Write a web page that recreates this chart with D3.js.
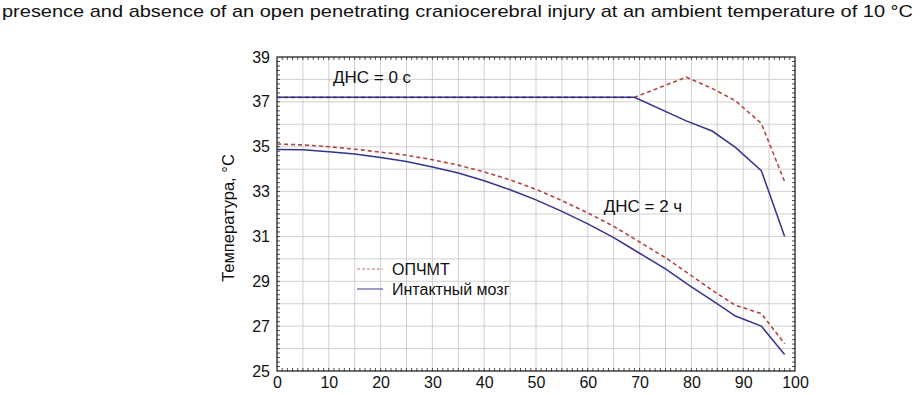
<!DOCTYPE html>
<html>
<head>
<meta charset="utf-8">
<script src="https://cdn.jsdelivr.net/npm/d3@7"></script>
<style>
  body { margin: 0; background: white; }
  text { font-family: Arial, "Liberation Sans", sans-serif; }
</style>
</head>
<body>
<div id="chart-area"></div>
<script>
// data
const xTop = [0, 69, 79, 84, 88.5, 93.5, 98];
const intactTop = [37.2, 37.2, 36.15, 35.7, 34.97, 33.93, 31.0];
const injuryTop = [37.2, 37.2, 38.1, 37.6, 37.05, 36.04, 33.44];

const xLow = [0, 5, 10, 15, 20, 25, 30, 35, 40, 45, 50, 55, 60, 65, 70, 75, 80, 84, 88.5, 93.5, 98];
const intactLow = [34.88, 34.86, 34.78, 34.67, 34.52, 34.34, 34.10, 33.83, 33.48, 33.08, 32.63, 32.12,
                   31.56, 30.95, 30.25, 29.55, 28.75, 28.15, 27.45, 27.0, 25.74];
const injuryLow = [35.12, 35.08, 35.0, 34.89, 34.76, 34.62, 34.42, 34.18, 33.88, 33.52, 33.1, 32.6,
                   32.05, 31.45, 30.75, 30.05, 29.25, 28.6, 27.93, 27.56, 26.22];

const xTicks = [0, 10, 20, 30, 40, 50, 60, 70, 80, 90, 100];
const yTicks = [25, 27, 29, 31, 33, 35, 37, 39];
const legendLabels = ["ОПЧМТ", "Интактный мозг"];

const width = 921;
const height = 395;
const margin = {left: 277, right: 126, top: 57, bottom: 24};
const w = width - margin.left - margin.right;
const h = height - margin.top - margin.bottom;

const blue = "#34348f";
const red = "#b0463f";

const svg = d3.select("#chart-area")
    .append("svg")
    .attr("width", width)
    .attr("height", height);

// caption line (cut from the page above)
svg.append("text")
    .attr("x", 2)
    .attr("y", 17)
    .attr("font-size", "17px")
    .attr("textLength", 911)
    .attr("lengthAdjust", "spacingAndGlyphs")
    .attr("fill", "#111")
    .text("presence and absence of an open penetrating craniocerebral injury at an ambient temperature of 10 °C");

const g = svg.append("g")
    .attr("transform", "translate(" + margin.left + "," + margin.top + ")");

const x = d3.scaleLinear().domain([0, 100]).range([0, w]);
const y = d3.scaleLinear().domain([25, 39]).range([h, 0]);

// grid
g.append("g").selectAll("line")
    .data(d3.range(5, 100, 5))
    .enter().append("line")
    .attr("x1", d => x(d)).attr("x2", d => x(d))
    .attr("y1", 0).attr("y2", h)
    .attr("stroke", "#c4c4c4")
    .attr("stroke-width", 0.8);

g.append("g").selectAll("line")
    .data(d3.range(26, 39, 1))
    .enter().append("line")
    .attr("x1", 0).attr("x2", w)
    .attr("y1", d => y(d)).attr("y2", d => y(d))
    .attr("stroke", "#c4c4c4")
    .attr("stroke-width", 0.8);

// minor ticks inside the frame
const minorX = d3.range(1, 100, 1);
const minorY = d3.range(25.2, 39, 0.2);
g.append("g").selectAll("line")
    .data(minorX)
    .enter().append("line")
    .attr("x1", d => x(d)).attr("x2", d => x(d))
    .attr("y1", h).attr("y2", h - 3)
    .attr("stroke", "#222").attr("stroke-width", 0.8);
g.append("g").selectAll("line")
    .data(minorX)
    .enter().append("line")
    .attr("x1", d => x(d)).attr("x2", d => x(d))
    .attr("y1", 0).attr("y2", 3)
    .attr("stroke", "#222").attr("stroke-width", 0.8);
g.append("g").selectAll("line")
    .data(minorY)
    .enter().append("line")
    .attr("x1", 0).attr("x2", 3)
    .attr("y1", d => y(d)).attr("y2", d => y(d))
    .attr("stroke", "#222").attr("stroke-width", 0.8);
g.append("g").selectAll("line")
    .data(minorY)
    .enter().append("line")
    .attr("x1", w).attr("x2", w - 3)
    .attr("y1", d => y(d)).attr("y2", d => y(d))
    .attr("stroke", "#222").attr("stroke-width", 0.8);

// frame
g.append("rect")
    .attr("width", w).attr("height", h)
    .attr("fill", "none")
    .attr("stroke", "#111")
    .attr("stroke-width", 1.2);

// axes
const bottomAxis = d3.axisBottom(x).tickValues(xTicks).tickSize(0).tickPadding(6);
const leftAxis = d3.axisLeft(y).tickValues(yTicks).tickSize(0).tickPadding(7);

const xAxisGroup = g.append("g")
    .attr("transform", "translate(0," + h + ")")
    .call(bottomAxis);
const yAxisGroup = g.append("g")
    .call(leftAxis);

g.selectAll(".domain").remove();
g.selectAll(".tick text")
    .attr("font-size", "16px")
    .attr("font-family", "Arial, 'Liberation Sans', sans-serif")
    .attr("fill", "#111");

// y label
g.append("text")
    .attr("transform", "rotate(-90)")
    .attr("x", -(218 - margin.top))
    .attr("y", -43)
    .attr("text-anchor", "middle")
    .attr("font-size", "16.5px")
    .attr("fill", "#111")
    .text("Температура, °C");

// lines
const line = d3.line()
    .x(d => x(d[0]))
    .y(d => y(d[1]));

function drawSeries(xs, ys, color, dashed) {
    g.append("path")
        .datum(xs.map((v, i) => [v, ys[i]]))
        .attr("d", line)
        .attr("fill", "none")
        .attr("stroke", color)
        .attr("stroke-width", dashed ? 1.6 : 1.5)
        .attr("stroke-dasharray", dashed ? "4,3" : null);
}

drawSeries(xTop, injuryTop, red, true);
drawSeries(xTop, intactTop, blue, false);
drawSeries(xLow, injuryLow, red, true);
drawSeries(xLow, intactLow, blue, false);

// annotations
g.append("text")
    .attr("x", 372 - margin.left)
    .attr("y", 83 - margin.top)
    .attr("text-anchor", "middle")
    .attr("font-size", "17px")
    .attr("fill", "#111")
    .text("ДНС = 0 с");

g.append("text")
    .attr("x", 643 - margin.left)
    .attr("y", 212 - margin.top)
    .attr("text-anchor", "middle")
    .attr("font-size", "17px")
    .attr("fill", "#111")
    .text("ДНС = 2 ч");

// legend
const legend = g.append("g")
    .attr("transform", "translate(" + (357 - margin.left) + "," + (269 - margin.top) + ")");

legendLabels.forEach((lab, i) => {
    const row = legend.append("g").attr("transform", "translate(0," + (i * 20) + ")");
    row.append("line")
        .attr("x1", 0).attr("x2", 26)
        .attr("y1", 0).attr("y2", 0)
        .attr("stroke", i === 0 ? "#c2706a" : "#5a5aa8")
        .attr("stroke-width", 1.2)
        .attr("stroke-dasharray", i === 0 ? "3,2" : null);
    row.append("text")
        .attr("x", 35)
        .attr("y", 0)
        .attr("dy", "0.35em")
        .attr("font-size", "16px")
        .attr("fill", "#111")
        .text(lab);
});
</script>
</body>
</html>
